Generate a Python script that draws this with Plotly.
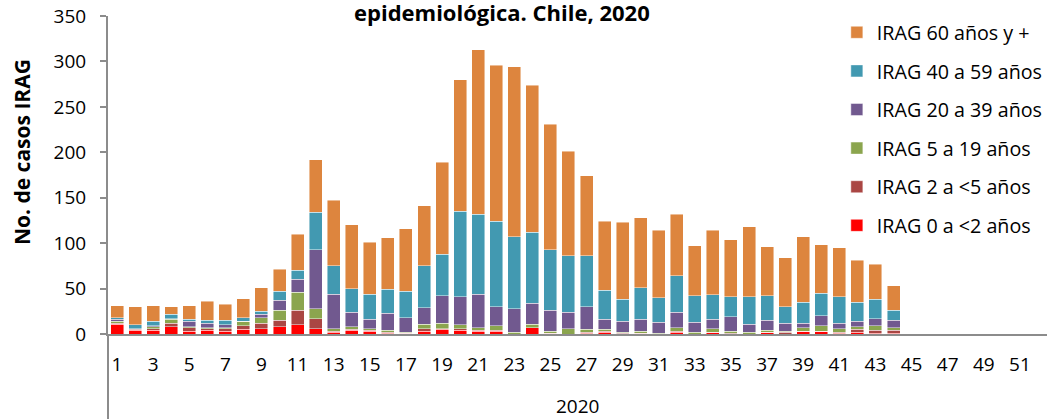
import plotly.graph_objects as go

weeks = list(range(1, 53))

irag_0_2 = [11, 4, 4, 8, 3, 4, 3, 5, 6, 8, 10, 6, 2, 4, 3, 1, 1, 3, 5, 4, 3, 3, 0, 7, 1, 0,
            1, 2, 0, 1, 0, 2, 0, 2, 0, 0, 2, 0, 3, 3, 1, 2, 1, 1]
irag_2_5 = [1, 1, 2, 4, 4, 2, 3, 4, 6, 7, 16, 11, 1, 1, 1, 1, 0, 3, 1, 2, 1, 1, 0, 0, 0, 0,
            1, 1, 1, 0, 0, 1, 0, 0, 1, 0, 0, 2, 0, 0, 1, 3, 3, 3]
irag_5_19 = [2, 1, 2, 4, 1, 1, 1, 5, 6, 11, 20, 11, 3, 3, 2, 2, 1, 5, 6, 4, 3, 5, 2, 4, 2, 6,
             3, 2, 1, 2, 1, 4, 2, 4, 2, 2, 2, 1, 4, 6, 4, 3, 5, 3]
irag_20_39 = [2, 0, 1, 1, 6, 5, 3, 0, 4, 11, 14, 65, 38, 16, 10, 19, 16, 18, 30, 31, 37, 21, 26,
              23, 23, 18, 25, 11, 12, 13, 12, 17, 11, 10, 16, 9, 11, 9, 5, 11, 6, 6, 8, 8]
irag_40_59 = [2, 4, 5, 5, 2, 3, 5, 4, 3, 10, 10, 41, 31, 26, 28, 26, 29, 46, 46, 94, 88, 94, 79,
              78, 67, 62, 56, 32, 24, 35, 27, 40, 29, 27, 22, 30, 27, 18, 23, 25, 29, 21, 21, 11]
irag_60 = [13, 20, 17, 8, 15, 21, 18, 21, 26, 24, 40, 58, 72, 70, 57, 57, 69, 66, 101, 145, 181,
           172, 187, 162, 138, 115, 88, 76, 85, 77, 74, 68, 55, 71, 63, 77, 54, 54, 72, 53, 54,
           46, 39, 27]

names = ["IRAG 0 a <2 años", "IRAG 2 a <5 años", "IRAG 5 a 19 años",
         "IRAG 20 a 39 años", "IRAG 40 a 59 años", "IRAG 60 años y +"]
colors = ["#FF0000", "#AA4643", "#8BA54E", "#71598F", "#4299B1", "#DD853E"]
data = [irag_0_2, irag_2_5, irag_5_19, irag_20_39, irag_40_59, irag_60]

FONT = "Open Sans"

fig = go.Figure()
for i, (name, vals, color) in enumerate(zip(names, data, colors)):
    fig.add_trace(go.Bar(
        x=weeks[:len(vals)], y=vals, name=name, legendgroup=name,
        legendrank=len(names) - i,
        marker=dict(color=color, line=dict(color="rgba(255,255,255,0.6)", width=0.75)),
    ))

fig.update_layout(
    width=1050, height=419,
    barmode="stack", bargap=0.28,
    margin=dict(l=108, r=3.4, t=16, b=85, autoexpand=False),
    plot_bgcolor="white", paper_bgcolor="white",
    font=dict(family=FONT, size=19, color="#000000"),
    legend=dict(xref="container", yref="container", x=0.797, xanchor="left",
                y=0.969, yanchor="top", maxheight=400,
                traceorder="grouped", tracegroupgap=10,
                bgcolor="rgba(0,0,0,0)", font=dict(size=19.7)),
    showlegend=True,
)
fig.update_xaxes(range=[0.5, 52.5], tickmode="array", tickvals=list(range(1, 53, 2)),
                 showline=True, linecolor="#8C8C8C", linewidth=2, ticks="",
                 ticklabelstandoff=12, ticklabeloverflow="allow",
                 showgrid=False, zeroline=False)
fig.update_yaxes(range=[0, 350], dtick=50, showline=True, linecolor="#8C8C8C", linewidth=2,
                 ticks="outside", ticklen=6, tickcolor="#8C8C8C", tickwidth=2,
                 ticklabelstandoff=10, ticklabeloverflow="allow",
                 showgrid=False, zeroline=False)

fig.add_shape(type="line", xref="paper", yref="paper", x0=0, x1=0, y0=0, y1=-0.27,
              line=dict(color="#8C8C8C", width=2))
fig.add_annotation(text="2020", xref="paper", yref="paper", x=0.5, y=-0.226,
                   showarrow=False, yanchor="middle", font=dict(size=19))
fig.add_annotation(text="<b>No. de casos IRAG</b>", xref="paper", yref="paper",
                   x=-0.0916, y=0.572, textangle=-90, showarrow=False,
                   xanchor="center", yanchor="middle", font=dict(size=21))
fig.add_annotation(text="<b>epidemiológica. Chile, 2020</b>", xref="paper", yref="paper",
                   x=0.4198, y=1.0126, showarrow=False, xanchor="center", yanchor="middle",
                   font=dict(size=22))

fig.write_html("out.html", config={"displayModeBar": False},
               post_script="document.body.style.margin='0';document.body.style.overflow='hidden';")
